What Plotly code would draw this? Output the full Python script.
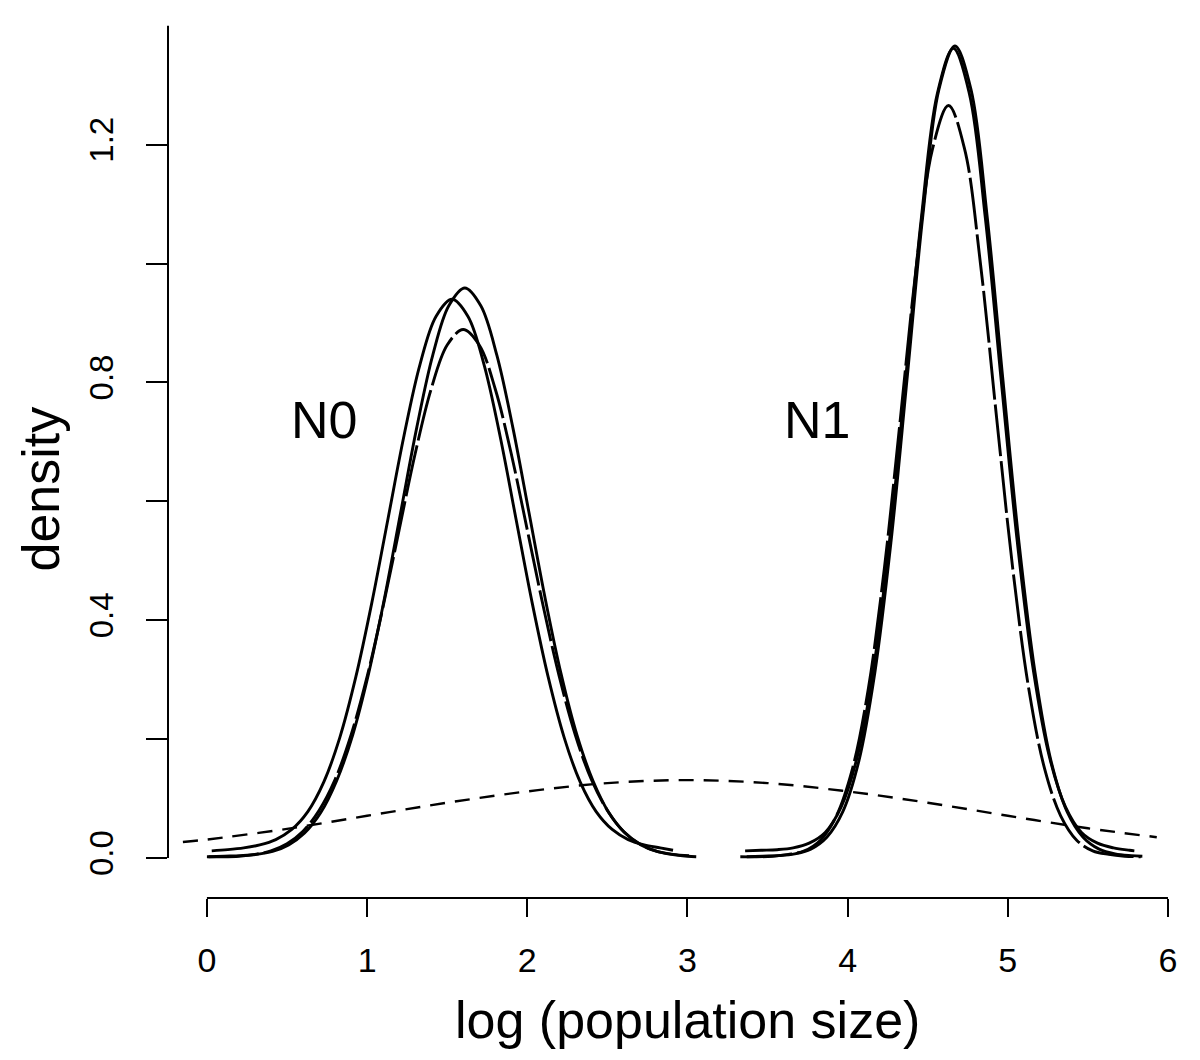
import plotly.graph_objects as go

# ---- data (density curves) ----
# N0 group
n0a_x = [0.03,0.13,0.23,0.33,0.43,0.53,0.63,0.73,0.83,0.93,1.03,1.13,1.23,1.33,1.43,1.53,
         1.63,1.73,1.83,1.93,2.03,2.13,2.23,2.33,2.43,2.53,2.63,2.73,2.83,2.91]
n0a_y = [0.012,0.014,0.017,0.022,0.031,0.048,0.078,0.128,0.203,0.305,0.430,0.570,0.710,0.830,0.911,0.940,
         0.911,0.830,0.710,0.570,0.430,0.305,0.203,0.128,0.078,0.048,0.031,0.022,0.017,0.013]

n0b_x = [0.01,0.11,0.21,0.31,0.41,0.51,0.61,0.71,0.81,0.91,1.01,1.11,1.21,1.31,1.41,1.51,1.61,
         1.71,1.81,1.91,2.01,2.11,2.21,2.31,2.41,2.51,2.61,2.71,2.81,2.91,3.01]
n0b_y = [0.002,0.003,0.004,0.006,0.011,0.022,0.042,0.076,0.130,0.207,0.311,0.439,0.582,0.724,0.846,0.929,0.959,
         0.929,0.846,0.724,0.582,0.439,0.311,0.207,0.130,0.076,0.042,0.022,0.011,0.006,0.004]

n0c_x = [0.00,0.10,0.20,0.30,0.40,0.50,0.60,0.70,0.80,0.90,1.00,1.10,1.20,1.30,1.40,1.50,1.60,
         1.70,1.80,1.90,2.00,2.10,2.20,2.30,2.40,2.50,2.60,2.70,2.80,2.90,3.00,3.08]
n0c_y = [0.002,0.002,0.003,0.006,0.012,0.024,0.045,0.080,0.132,0.207,0.305,0.423,0.552,0.680,0.789,0.863,0.889,
         0.863,0.789,0.680,0.552,0.423,0.305,0.207,0.132,0.080,0.045,0.024,0.012,0.006,0.003,0.002]

# N1 group
n1a_x = [3.36,3.46,3.56,3.66,3.76,3.86,3.96,4.06,4.16,4.26,4.36,4.46,4.56,4.66,
         4.76,4.86,4.96,5.06,5.16,5.26,5.36,5.46,5.56,5.66,5.76,5.79]
n1a_y = [0.012,0.013,0.014,0.017,0.025,0.043,0.086,0.170,0.315,0.530,0.800,1.076,1.286,1.362,
         1.286,1.076,0.800,0.530,0.315,0.170,0.086,0.043,0.025,0.017,0.013,0.012]

n1b_x = [3.37,3.47,3.57,3.67,3.77,3.87,3.97,4.07,4.17,4.27,4.37,4.47,4.57,4.67,
         4.77,4.87,4.97,5.07,5.17,5.27,5.37,5.47,5.57,5.67,5.77,5.84]
n1b_y = [0.002,0.003,0.004,0.007,0.015,0.035,0.078,0.163,0.312,0.530,0.803,1.082,1.293,1.366,
         1.293,1.082,0.803,0.530,0.312,0.163,0.078,0.035,0.015,0.007,0.004,0.003]

n1c_x = [3.33,3.43,3.53,3.63,3.73,3.83,3.93,4.03,4.13,4.23,4.33,4.43,4.53,4.63,
         4.73,4.83,4.93,5.03,5.13,5.23,5.33,5.43,5.53,5.63,5.73,5.83]
n1c_y = [0.002,0.002,0.003,0.006,0.012,0.030,0.071,0.150,0.286,0.489,0.741,0.998,1.193,1.266,
         1.193,0.998,0.741,0.489,0.286,0.150,0.071,0.030,0.012,0.006,0.003,0.002]

# broad prior (short dashes)
prior_x = [-0.15,0.0,0.5,1.0,1.5,2.0,2.5,3.0,3.5,4.0,4.5,5.0,5.5,5.93]
prior_y = [0.027,0.031,0.049,0.071,0.093,0.112,0.126,0.131,0.126,0.112,0.093,0.071,0.050,0.035]

x_ticks = [0, 1, 2, 3, 4, 5, 6]
y_ticks = [0.0, 0.2, 0.4, 0.6, 0.8, 1.0, 1.2]
y_ticktext = ["0.0", "", "0.4", "", "0.8", "", "1.2"]

labels = ["N0", "N1"]
label_x = [0.73, 3.81]
label_y = [0.737, 0.737]

SANS = "Liberation Sans, Arial, Helvetica, sans-serif"

fig = go.Figure()

solid = dict(color="black", width=2.9)
longdash = dict(color="black", width=2.9, dash="52px,5px")

for xs, ys, ln in [
    (n0a_x, n0a_y, solid), (n0b_x, n0b_y, solid), (n0c_x, n0c_y, longdash),
    (n1a_x, n1a_y, solid), (n1b_x, n1b_y, solid), (n1c_x, n1c_y, longdash),
]:
    fig.add_trace(go.Scatter(x=xs, y=ys, mode="lines", line=dict(ln, shape="spline", smoothing=1.0),
                             showlegend=False, hoverinfo="skip"))

fig.add_trace(go.Scatter(x=prior_x, y=prior_y, mode="lines",
                         line=dict(color="black", width=2.4, dash="15px,10px", shape="spline"),
                         showlegend=False, hoverinfo="skip"))

for t, xx, yy in zip(labels, label_x, label_y):
    fig.add_annotation(x=xx, y=yy, xref="x", yref="y", text=t, showarrow=False,
                       font=dict(family=SANS, size=52, color="black"),
                       xanchor="center", yanchor="middle")

# axis titles
fig.add_annotation(x=3.0, xref="x", y=-0.137, yref="paper", text="log (population size)",
                   showarrow=False, font=dict(family=SANS, size=52, color="black"),
                   xanchor="center", yanchor="middle")
fig.add_annotation(x=-0.125, xref="paper", y=0.62, yref="y", text="density", textangle=-90,
                   showarrow=False, font=dict(family=SANS, size=52, color="black"),
                   xanchor="center", yanchor="middle")

# R-style detached axis lines
fig.add_shape(type="line", xref="paper", yref="y", x0=0, x1=0, y0=0, y1=1.4,
              line=dict(color="black", width=2))
fig.add_shape(type="line", xref="x", yref="paper", x0=0, x1=6, y0=0, y1=0,
              line=dict(color="black", width=2))

# the page body adds an 8px offset, so the figure is 8px smaller and margins shifted
fig.update_layout(
    width=1192, height=1052, autosize=False,
    margin=dict(l=160, r=16, t=0, b=162, autoexpand=False),
    paper_bgcolor="white", plot_bgcolor="white",
    xaxis=dict(range=[-0.243, 6.1], showline=False, showgrid=False, zeroline=False,
               tickvals=x_ticks, ticktext=[str(v) for v in x_ticks], automargin=False,
               ticks="outside", ticklen=18, tickwidth=2, tickcolor="black",
               tickfont=dict(family=SANS, size=34, color="black"), ticklabelstandoff=14),
    yaxis=dict(range=[-0.0673, 1.43], showline=False, showgrid=False, zeroline=False,
               tickvals=y_ticks, ticktext=y_ticktext, tickangle=-90, automargin=False,
               ticks="outside", ticklen=21, tickwidth=2, tickcolor="black",
               tickfont=dict(family=SANS, size=33, color="black"), ticklabelstandoff=20),
)

fig.write_html("out.html")
